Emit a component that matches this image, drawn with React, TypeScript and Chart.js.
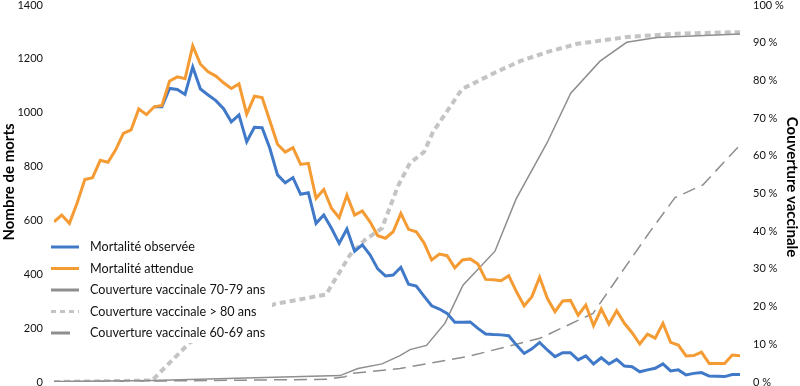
import React, { useEffect, useRef } from "react";
import { Chart, registerables } from "chart.js";

Chart.register(...registerables);

// Weekly mortality (weeks 0..89)
const weeks: number[] = Array.from({ length: 90 }, (_, i) => i);

const expected: number[] = [
  595, 620, 589, 665, 752, 759, 823, 816, 862, 923,
  936, 1014, 993, 1022, 1027, 1118, 1133, 1126, 1248, 1180,
  1152, 1136, 1111, 1090, 1107, 995, 1061, 1056, 970, 883,
  854, 870, 808, 812, 682, 715, 645, 610, 694, 620,
  635, 595, 543, 534, 558, 626, 567, 558, 517, 453,
  475, 469, 424, 453, 457, 438, 381, 380, 376, 395,
  335, 283, 317, 389, 311, 261, 301, 303, 248, 286,
  209, 271, 215, 265, 218, 183, 141, 178, 163, 218,
  147, 137, 97, 98, 111, 69, 69, 69, 100, 97,
];

const observed: (number | null)[] = [
  null, null, null, null, null, null, null, null, null, null,
  null, null, null, 1022, 1022, 1090, 1086, 1068, 1170, 1088,
  1066, 1045, 1015, 966, 992, 892, 946, 944, 868, 769,
  740, 759, 697, 703, 589, 620, 571, 515, 568, 486,
  509, 472, 420, 394, 397, 426, 363, 356, 319, 283,
  271, 255, 222, 222, 223, 199, 178, 176, 175, 172,
  137, 106, 123, 147, 119, 94, 109, 109, 82, 97,
  67, 90, 67, 84, 59, 57, 38, 45, 51, 67,
  41, 45, 26, 32, 35, 22, 21, 20, 28, 28,
];

// Vaccination coverage (%), positions on the same week axis
const cov70Weeks: number[] = [0, 12.71, 37.1, 39.44, 42.55, 44.89, 46.19, 48.33, 50.73, 53.06, 57.21, 59.94, 63.96, 67.04, 70.84, 74.3, 78.19, 89];
const cov70: number[] = [0.1, 0.4, 1.7, 3.6, 4.8, 7.0, 8.6, 9.7, 15.6, 25.7, 34.7, 48.5, 63.4, 76.6, 85.1, 90.1, 91.4, 92.3];

const cov80Weeks: number[] = [0, 12.71, 17.64, 19.6, 28.67, 35.29, 38.4, 40.35, 42.55, 44.63, 46.19, 48.0, 49.17, 52.93, 57.34, 60.46, 63.96, 67.85, 74.34, 80.83, 89];
const cov80: number[] = [0, 0.4, 10.5, 12.5, 20.7, 23.2, 33.7, 37.7, 40.8, 52.0, 58.1, 61.0, 66.3, 77.7, 82.2, 85.1, 87.5, 89.7, 91.5, 92.4, 92.8];

const cov60Weeks: number[] = [0, 35.42, 37.75, 38.79, 44.89, 53.58, 63.05, 69.93, 77.32, 80.57, 84.2, 89];
const cov60: number[] = [0, 0.7, 1.4, 2.3, 3.6, 6.7, 11.6, 18.2, 39.9, 48.9, 52.3, 62.9];

const leftTicks: number[] = [0, 200, 400, 600, 800, 1000, 1200, 1400];
const rightTicks: number[] = [0, 10, 20, 30, 40, 50, 60, 70, 80, 90, 100];

const LABELS = {
  observed: "Mortalité observée",
  expected: "Mortalité attendue",
  c70: "Couverture vaccinale 70-79 ans",
  c80: "Couverture vaccinale > 80 ans",
  c60: "Couverture vaccinale 60-69 ans",
  yLeft: "Nombre de morts",
  yRight: "Couverture vaccinale",
};

const BLUE = "#4179c9";
const ORANGE = "#f59b33";
const GRAY = "#8e8e8e";
const LIGHT = "#c4c4c4";
const FONT = "Lato, 'Noto Sans', sans-serif";

const pts = (xs: number[], ys: (number | null)[]) => xs.map((x, i) => ({ x, y: ys[i] }));

const legendItems = [
  { label: LABELS.observed, color: BLUE, lw: 3, dash: [] as number[] },
  { label: LABELS.expected, color: ORANGE, lw: 3, dash: [] as number[] },
  { label: LABELS.c70, color: GRAY, lw: 3, dash: [] as number[] },
  { label: LABELS.c80, color: LIGHT, lw: 3, dash: [5, 4] },
  { label: LABELS.c60, color: GRAY, lw: 3, dash: [19, 30] },
];

const boxLegend = {
  id: "boxLegend",
  afterDatasetsDraw(chart: any) {
    const ctx = chart.ctx as CanvasRenderingContext2D;
    ctx.save();
    ctx.fillStyle = "#ffffff";
    ctx.fillRect(44, 236, 228, 107);
    legendItems.forEach((it, k) => {
      const y = 247 + k * 21.5;
      ctx.strokeStyle = it.color;
      ctx.lineWidth = it.lw;
      ctx.setLineDash(it.dash);
      ctx.lineCap = "butt";
      ctx.beginPath();
      ctx.moveTo(51, y);
      ctx.lineTo(79, y);
      ctx.stroke();
      ctx.setLineDash([]);
      ctx.fillStyle = "#111";
      ctx.font = `12.6px ${FONT}`;
      ctx.textBaseline = "middle";
      ctx.textAlign = "left";
      ctx.fillText(it.label, 90, y);
    });
    ctx.restore();
  },
};

const axisTitles = {
  id: "axisTitles",
  afterDraw(chart: any) {
    const ctx = chart.ctx as CanvasRenderingContext2D;
    ctx.save();
    ctx.fillStyle = "#000";
    ctx.font = `bold 15px ${FONT}`;
    ctx.textAlign = "center";
    ctx.textBaseline = "middle";
    ctx.translate(9, 182);
    ctx.rotate(-Math.PI / 2);
    ctx.fillText(LABELS.yLeft, 0, 0);
    ctx.restore();
    ctx.save();
    ctx.fillStyle = "#000";
    ctx.font = `bold 15px ${FONT}`;
    ctx.textAlign = "center";
    ctx.textBaseline = "middle";
    ctx.translate(792, 187);
    ctx.rotate(Math.PI / 2);
    ctx.fillText(LABELS.yRight, 0, 0);
    ctx.restore();
  },
};

export default function App() {
  const ref = useRef<HTMLCanvasElement>(null);

  useEffect(() => {
    if (!ref.current) return;
    const chart = new Chart(ref.current, {
      type: "line",
      data: {
        datasets: [
          {
            label: LABELS.expected,
            data: pts(weeks, expected),
            borderColor: ORANGE,
            borderWidth: 3,
            pointRadius: 0,
            yAxisID: "y",
          },
          {
            label: LABELS.observed,
            data: pts(weeks, observed),
            borderColor: BLUE,
            borderWidth: 3,
            pointRadius: 0,
            yAxisID: "y",
            spanGaps: false,
          },
          {
            label: LABELS.c70,
            data: pts(cov70Weeks, cov70),
            borderColor: GRAY,
            borderWidth: 1.5,
            pointRadius: 0,
            yAxisID: "y1",
          },
          {
            label: LABELS.c80,
            data: pts(cov80Weeks, cov80),
            borderColor: LIGHT,
            borderWidth: 4,
            borderDash: [6, 4],
            pointRadius: 0,
            yAxisID: "y1",
          },
          {
            label: LABELS.c60,
            data: pts(cov60Weeks, cov60),
            borderColor: GRAY,
            borderWidth: 1.5,
            borderDash: [13, 7],
            pointRadius: 0,
            yAxisID: "y1",
          },
        ],
      },
      options: {
        animation: false,
        responsive: false,
        events: [],
        layout: { padding: { top: 5, bottom: 4, left: 0, right: 0 } },
        plugins: { legend: { display: false }, tooltip: { enabled: false } },
        scales: {
          x: { type: "linear", display: false, min: 0, max: 89 },
          y: {
            position: "left",
            min: 0,
            max: 1400,
            afterBuildTicks: (s: any) => {
              s.ticks = leftTicks.map((v) => ({ value: v }));
            },
            grid: { display: false, drawTicks: false },
            border: { display: false },
            ticks: {
              padding: 11,
              color: "#111",
              font: { family: FONT, size: 11 },
              callback: (v: any) => String(v),
            },
            afterFit: (s: any) => {
              s.width = 54;
              s.paddingTop = 0;
              s.paddingBottom = 0;
            },
          },
          y1: {
            position: "right",
            min: 0,
            max: 100,
            afterBuildTicks: (s: any) => {
              s.ticks = rightTicks.map((v) => ({ value: v }));
            },
            grid: { display: false, drawTicks: false },
            border: { display: false },
            ticks: {
              padding: 13,
              color: "#111",
              font: { family: FONT, size: 11 },
              callback: (v: any) => `${v} %`,
            },
            afterFit: (s: any) => {
              s.width = 60;
              s.paddingTop = 0;
              s.paddingBottom = 0;
            },
          },
        },
      },
      plugins: [boxLegend, axisTitles],
    } as any);
    return () => chart.destroy();
  }, []);

  return (
    <div style={{ position: "fixed", left: 0, top: 0, width: 800, height: 386, background: "#fff" }}>
      <canvas ref={ref} width={800} height={386} style={{ display: "block" }} />
    </div>
  );
}
